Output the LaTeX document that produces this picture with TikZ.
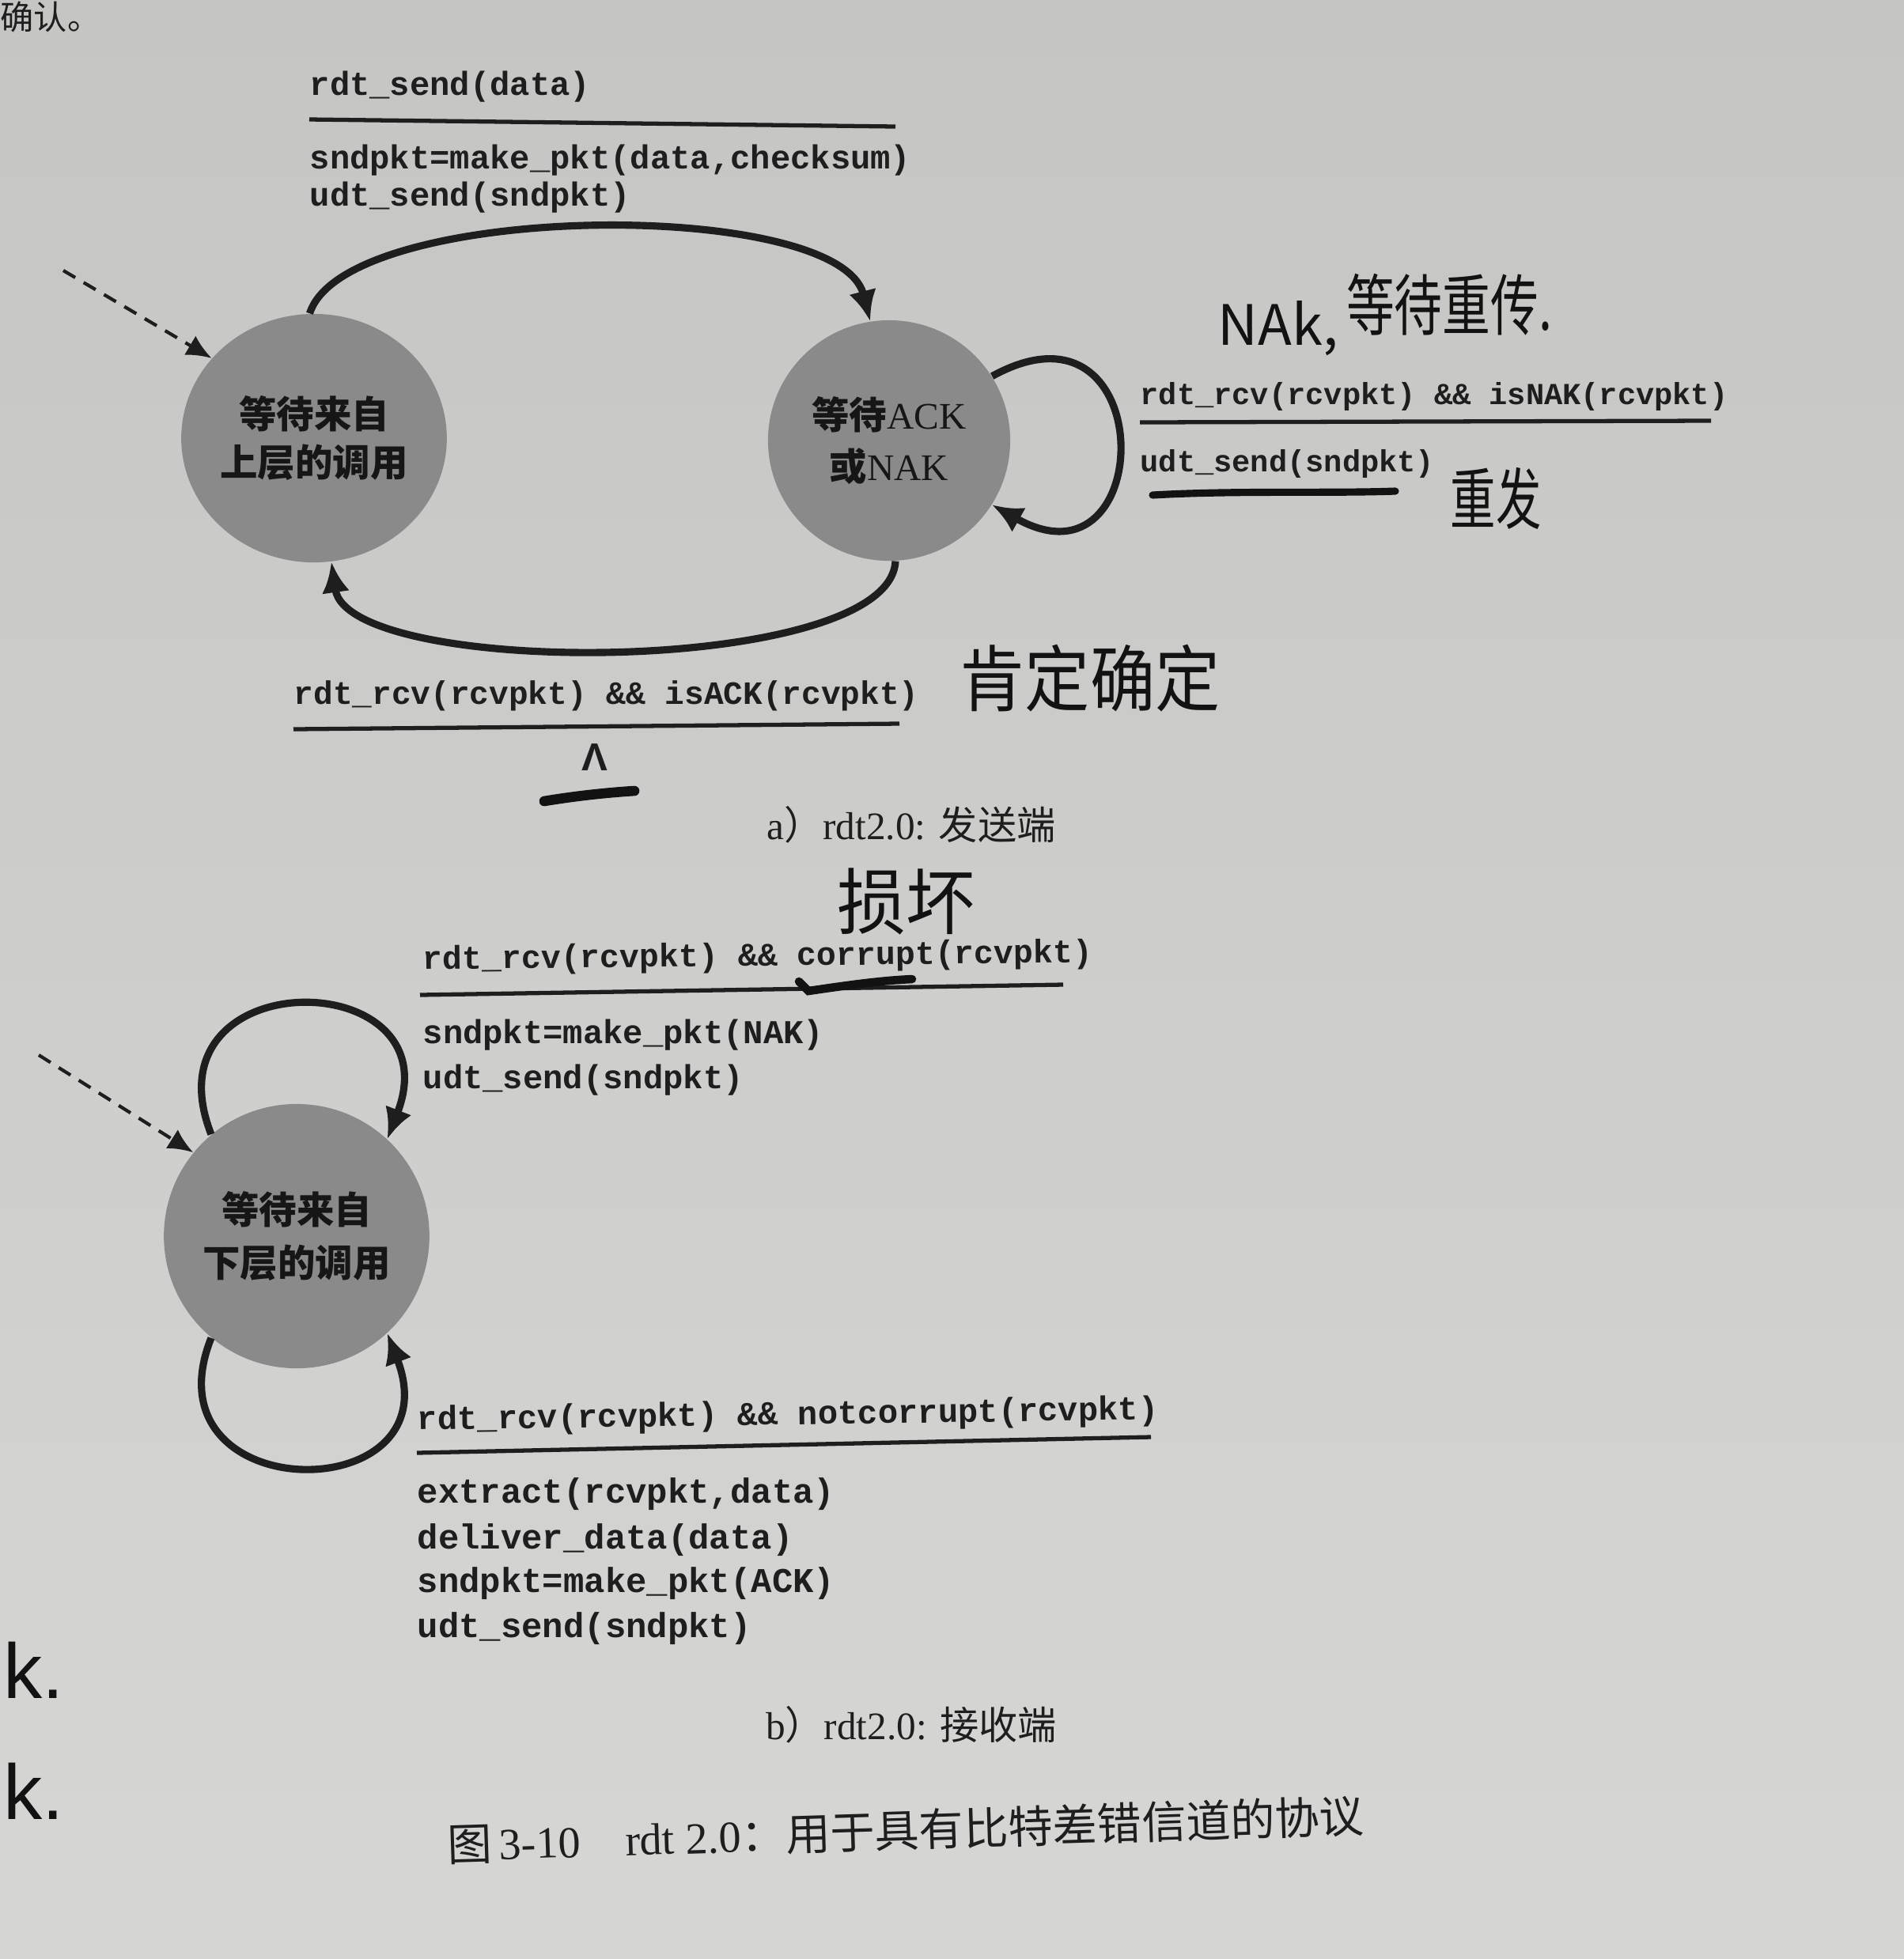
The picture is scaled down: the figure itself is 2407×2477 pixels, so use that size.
\documentclass[tikz,border=0pt]{standalone}
\usepackage{fontspec}
\setmainfont{Liberation Serif}
\setmonofont{Liberation Mono}
\newfontfamily\cjk{Noto Sans CJK SC}
\newfontfamily\handlatin{Liberation Sans}
\usetikzlibrary{arrows.meta,shapes.geometric}

\definecolor{paperdark}{RGB}{197,197,195}
\definecolor{paperlight}{RGB}{214,214,212}
\definecolor{statefill}{RGB}{138,138,138}
\definecolor{ink}{RGB}{30,30,30}
\definecolor{stateink}{RGB}{22,22,22}
\definecolor{pen}{RGB}{18,18,18}

\begin{document}
\begin{tikzpicture}[x=0.01cm, y=-0.01cm,
  state/.style={ellipse, fill=statefill, draw=none, align=center, inner sep=0pt, text=stateink},
  statetext/.style={font=\cjk\bfseries\fontsize{13.5pt}{17.6pt}\selectfont},
  code/.style={font=\ttfamily\bfseries\fontsize{12pt}{14pt}\selectfont, anchor=west, inner sep=0pt, text=ink},
  rule/.style={draw=ink, line width=1.5pt},
  trans/.style={draw=ink, line width=2.6pt, -{Latex[length=11pt,width=10pt]}},
  initarrow/.style={draw=ink, line width=1.2pt, dash pattern=on 5pt off 3.5pt, -{Latex[length=9pt,width=8pt]}},
  caption/.style={inner sep=0pt, text=ink, font=\fontsize{14pt}{16pt}\selectfont},
  hand/.style={inner sep=0pt, text=pen},
  penline/.style={draw=pen, line width=2.6pt, line cap=round}
]
\useasboundingbox (0,0) rectangle (2407,2477);
\shade[top color=paperdark, bottom color=paperlight] (0,0) rectangle (2407,2477);

% ---------- printed text fragment at the top edge ----------
\node[inner sep=0pt, anchor=west, text=ink, font=\cjk\fontsize{12pt}{14pt}\selectfont] (pagetop) at (0,21) {确认。};

% ================= a) sender =================
\node[state, statetext, minimum width=3.2cm, minimum height=3.14cm] (s1) at (397,554) {等待来自\\上层的调用};
\node[state, minimum width=3.06cm, minimum height=3.04cm,
      font=\fontsize{13.5pt}{18.5pt}\selectfont] (s2) at (1124,557) {{\cjk\bfseries 等待}ACK\\{\cjk\bfseries 或}NAK};

\coordinate (init1) at (80,342);
\draw[initarrow] (init1) -- (s1.142);

% rdt_send transition
\draw[trans] (s1.92) .. controls +(45,-142) and +(-40,-157) .. (s2.99);
\node[code] (l1) at (391,110) {rdt\_send(data)};
\draw[rule] (391,151) -- (1132,160);
\node[code] (l2) at (391,203) {sndpkt=make\_pkt(data,checksum)};
\node[code] (l3) at (391,250) {udt\_send(sndpkt)};

% isNAK self loop
\draw[trans] (s2.32) .. controls +(214,-118) and +(210,118) .. (s2.-32);
\node[code, font=\ttfamily\bfseries\fontsize{11pt}{13pt}\selectfont] (l4) at (1441,501) {rdt\_rcv(rcvpkt) \&\& isNAK(rcvpkt)};
\draw[rule] (1441,534) -- (2163,532);
\node[code, font=\ttfamily\bfseries\fontsize{11pt}{13pt}\selectfont] (l5) at (1441,586) {udt\_send(sndpkt)};

% isACK transition
\draw[trans] (s2.-87) .. controls +(-7,146) and +(21,148) .. (s1.-82);
\node[code, font=\ttfamily\bfseries\fontsize{11.7pt}{13pt}\selectfont] (l6) at (371,880) {rdt\_rcv(rcvpkt) \&\& isACK(rcvpkt)};
\draw[rule] (371,922) -- (1137,915);
\node[inner sep=0pt, text=ink, font=\handlatin\bfseries\fontsize{14pt}{16pt}\selectfont] (lambda) at (752,958) {Λ};

\node[caption] (capa) at (1152,1043) {a{\cjk ）}rdt2.0: {\cjk 发送端}};

% ================= b) receiver =================
\node[state, minimum width=3.24cm, minimum height=3.34cm,
      font=\cjk\bfseries\fontsize{13.5pt}{19pt}\selectfont] (r1) at (375,1563) {等待来自\\下层的调用};

\coordinate (init2) at (49,1334);
\draw[initarrow] (init2) -- (r1.141);

% corrupt self loop (top)
\draw[trans] (r1.130) .. controls +(-86,-220) and +(86,-222) .. (r1.47);
\node[code, rotate=0.6, font=\ttfamily\bfseries\fontsize{11.8pt}{13pt}\selectfont] (l7) at (534,1215) {rdt\_rcv(rcvpkt) \&\& corrupt(rcvpkt)};
\draw[rule] (531,1258) -- (1344,1245);
\node[code] (l8) at (534,1309) {sndpkt=make\_pkt(NAK)};
\node[code] (l9) at (534,1366) {udt\_send(sndpkt)};

% notcorrupt self loop (bottom)
\draw[trans] (r1.-130) .. controls +(-86,216) and +(86,224) .. (r1.-47);
\node[code, rotate=0.8] (l10) at (527,1797) {rdt\_rcv(rcvpkt) \&\& notcorrupt(rcvpkt)};
\draw[rule] (527,1837) -- (1455,1817);
\node[code, font=\ttfamily\bfseries\fontsize{12.5pt}{14pt}\selectfont] (l11) at (527,1889) {extract(rcvpkt,data)};
\node[code, font=\ttfamily\bfseries\fontsize{12.5pt}{14pt}\selectfont] (l12) at (527,1947) {deliver\_data(data)};
\node[code, font=\ttfamily\bfseries\fontsize{12.5pt}{14pt}\selectfont] (l13) at (527,2002) {sndpkt=make\_pkt(ACK)};
\node[code, font=\ttfamily\bfseries\fontsize{12.5pt}{14pt}\selectfont] (l14) at (527,2059) {udt\_send(sndpkt)};

\node[caption] (capb) at (1152,2181) {b{\cjk ）}rdt2.0: {\cjk 接收端}};

% figure caption
\node[caption, rotate=1.8, font=\fontsize{16pt}{18pt}\selectfont] (fig) at (1145,2314)
  {{\cjk 图}\,3-10\quad rdt 2.0{\cjk ：用于具有比特差错信道的协议}};

% ================= pen notes =================
\node[hand, font=\cjk\fontsize{20pt}{22pt}\selectfont] (n1) at (1616,415) {NAk,};
\node[hand, xscale=0.72, font=\cjk\fontsize{24pt}{26pt}\selectfont] (n2) at (1832,385) {等待重传.};
\draw[penline] (1457,626) .. controls (1560,620) and (1680,624) .. (1764,621);
\node[hand, xscale=0.68, font=\cjk\fontsize{24pt}{26pt}\selectfont] (n3) at (1891,630) {重发};
\node[hand, xscale=0.9, font=\cjk\fontsize{26pt}{28pt}\selectfont] (n4) at (1378,858) {肯定确定};
\draw[penline, line width=3.6pt] (688,1013) .. controls (730,1006) and (770,1002) .. (802,1000);
\node[hand, xscale=0.95, font=\cjk\fontsize{26pt}{28pt}\selectfont] (n5) at (1145,1140) {损坏};
\draw[penline, line width=3pt] (1010,1241) -- (1022,1253) .. controls (1070,1246) and (1110,1240) .. (1153,1238);
\node[hand, anchor=base west, font=\handlatin\fontsize{28pt}{30pt}\selectfont] (k1) at (4,2147) {k.};
\node[hand, anchor=base west, font=\handlatin\fontsize{28pt}{30pt}\selectfont] (k2) at (4,2300) {k.};
\end{tikzpicture}
\end{document}
